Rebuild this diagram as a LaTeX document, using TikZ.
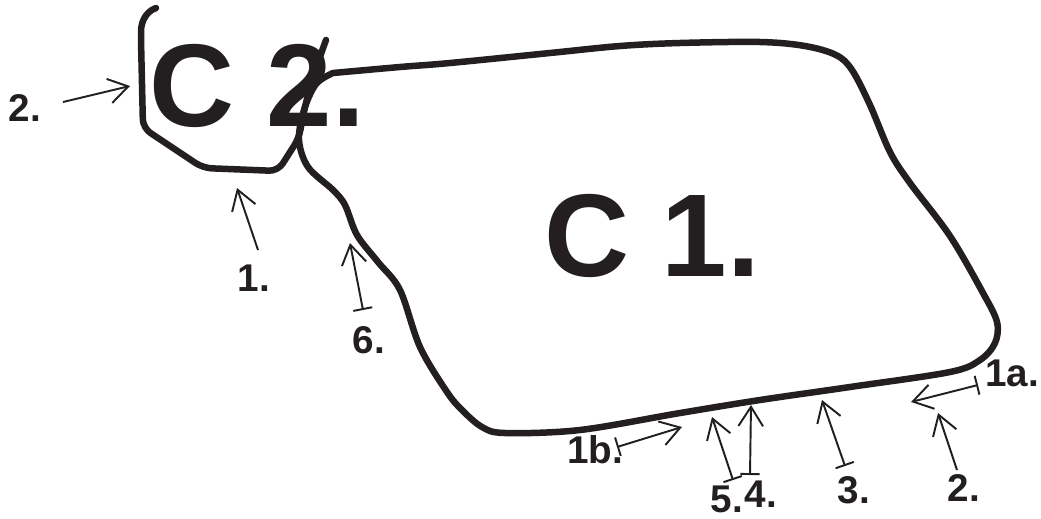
\documentclass[tikz,border=0pt]{standalone}
\usepackage{fontspec}
\setmainfont{Liberation Sans}
\usetikzlibrary{arrows.meta}
\definecolor{ink}{RGB}{35,31,32}

\begin{document}
\begin{tikzpicture}[
  x=0.02cm, y=-0.02cm,
  outline/.style={draw=ink, line width=3.7pt, line cap=round, line join=round},
  bigtxt/.style={inner sep=0pt, text=ink, font=\fontsize{67}{70}\selectfont\bfseries},
  lbl/.style={inner sep=0pt, text=ink, font=\fontsize{22}{24}\selectfont\bfseries},
  arrow/.style={draw=ink, line width=1.1pt, -{Straight Barb[length=11pt,width=14pt]}},
  bararrow/.style={arrow, {Bar[width=11pt]}-{Straight Barb[length=11pt,width=14pt]}}
]
  \useasboundingbox (0,0) rectangle (1041,518);

  % Region names
  \node[bigtxt] (c2) at (257,86) {C 2.};
  \node[bigtxt] (c1) at (652,236) {C 1.};

  % Outline of C 2.
  \draw[outline, rounded corners=5pt] (156,8) to[out=200,in=90] (141,40)
    -- (143,128) -- (203,168) -- (278,171) -- (299,138)
    to[out=80,in=250] (326,40);

  % Outline of C 1.
  \draw[outline] plot[smooth, tension=0.55] coordinates {
    (333,73) (400,67) (450,63) (550,53) (620,46) (680,43) (760,42)
    (805,46) (836,55) (852,70) (870,105) (890,152) (910,183) (950,236)
    (983,293) (997,322) (995,343) (980,360) (950,372) (850,387)
    (760,400) (680,413) (580,430) (505,433) (482,427) (462,410)
    (447,392) (420,347) (400,290) (378,262) (357,235) (345,205)
    (333,190) (308,167) (299,140) (304,110) (316,84) (333,73)};

  % Labels
  \node[lbl] (l2a) at (25,108) {2.};
  \node[lbl] (l1) at (254,278) {1.};
  \node[lbl] (l6) at (369,340) {6.};
  \node[lbl] (l1b) at (595,450) {1b.};
  \node[lbl] (l5) at (727,499) {5.};
  \node[lbl] (l4) at (761,494) {4.};
  \node[lbl] (l3) at (854,490) {3.};
  \node[lbl] (l2b) at (964,488) {2.};
  \node[lbl] (l1a) at (1012,373) {1a.};

  % Arrow ends
  \coordinate (t2a) at (63,102);   \coordinate (h2a) at (130,86);
  \coordinate (t1) at (258,250);   \coordinate (h1) at (237,188);
  \coordinate (t6) at (363,310);   \coordinate (h6) at (350,243);
  \coordinate (t1b) at (617,447);  \coordinate (h1b) at (682,427);
  \coordinate (t5) at (733,480);   \coordinate (h5) at (712,417);
  \coordinate (t4) at (750,475);   \coordinate (h4) at (751,405);
  \coordinate (t3) at (845,466);   \coordinate (h3) at (822,400);
  \coordinate (t2b) at (957,470);  \coordinate (h2b) at (938,413);
  \coordinate (t1a) at (978,385);  \coordinate (h1a) at (911,402);

  % Arrows
  \draw[arrow] (t2a) -- (h2a);
  \draw[arrow] (t1) -- (h1);
  \draw[bararrow] (t6) -- (h6);
  \draw[bararrow] (t1b) -- (h1b);
  \draw[bararrow] (t5) -- (h5);
  \draw[bararrow] (t4) -- (h4);
  \draw[bararrow] (t3) -- (h3);
  \draw[arrow] (t2b) -- (h2b);
  \draw[bararrow] (t1a) -- (h1a);
\end{tikzpicture}
\end{document}
